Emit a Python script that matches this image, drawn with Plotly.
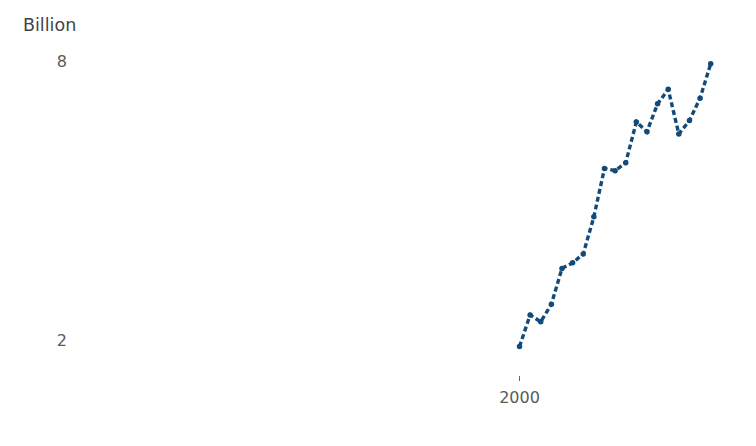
import plotly.graph_objects as go

years = list(range(2000, 2019))
values = [1.86, 2.54, 2.39, 2.77, 3.54, 3.66, 3.85, 4.65, 5.69, 5.64, 5.81,
          6.69, 6.48, 7.08, 7.39, 6.43, 6.72, 7.20, 7.94]
x_ticks = [2000]
y_ticks = [2, 8]
y_title = "Billion"

W, H = 756, 446
OFF = 8  # page body margin
# plot area in screenshot pixels, converted to figure pixels
left, right, top, bottom = 80 - OFF, 740 - OFF, 45 - OFF, 375 - OFF
x_2000, x_2018 = 519.5 - OFF, 710.7 - OFF
y_2, y_8 = 340 - OFF, 61 - OFF
px_per_year = (x_2018 - x_2000) / 18
x0 = 2000 - (x_2000 - left) / px_per_year
x1 = 2000 + (right - x_2000) / px_per_year
px_per_unit = (y_2 - y_8) / 6
y_lo = 2 - (bottom - y_2) / px_per_unit
y_hi = 8 + (y_8 - top) / px_per_unit

color = "#124a7a"
FONT = "DejaVu Sans, Verdana, sans-serif"

fig = go.Figure()
fig.add_trace(go.Scatter(
    x=years, y=values, mode="lines+markers",
    line=dict(color=color, width=3.4, dash="5px,3px"),
    marker=dict(color=color, size=5.5),
    hoverinfo="skip", showlegend=False,
))

fig.update_layout(
    width=W, height=H,
    margin=dict(l=left, r=W - right, t=top, b=H - bottom, pad=0),
    paper_bgcolor="white", plot_bgcolor="white",
    font=dict(family=FONT, size=16, color="#5a5a5a"),
    xaxis=dict(range=[x0, x1], tickvals=x_ticks, ticktext=[str(v) for v in x_ticks],
               showgrid=False, zeroline=False, showline=False,
               ticks="outside", ticklen=5, tickwidth=1, tickcolor="#666666",
               ticklabelstandoff=3),
    yaxis=dict(range=[y_lo, y_hi], tickvals=y_ticks, ticktext=[str(v) for v in y_ticks],
               showgrid=False, zeroline=False, showline=False, ticks="",
               ticklabelstandoff=12),
    annotations=[dict(text=y_title, xref="paper", yref="paper",
                      x=-(left - (21 - OFF)) / (right - left),
                      y=1 + (top - (25 - OFF)) / (bottom - top),
                      xanchor="left", yanchor="middle", showarrow=False,
                      font=dict(family=FONT, size=17.5, color="#444444"))],
)

fig.write_html("out.html")
